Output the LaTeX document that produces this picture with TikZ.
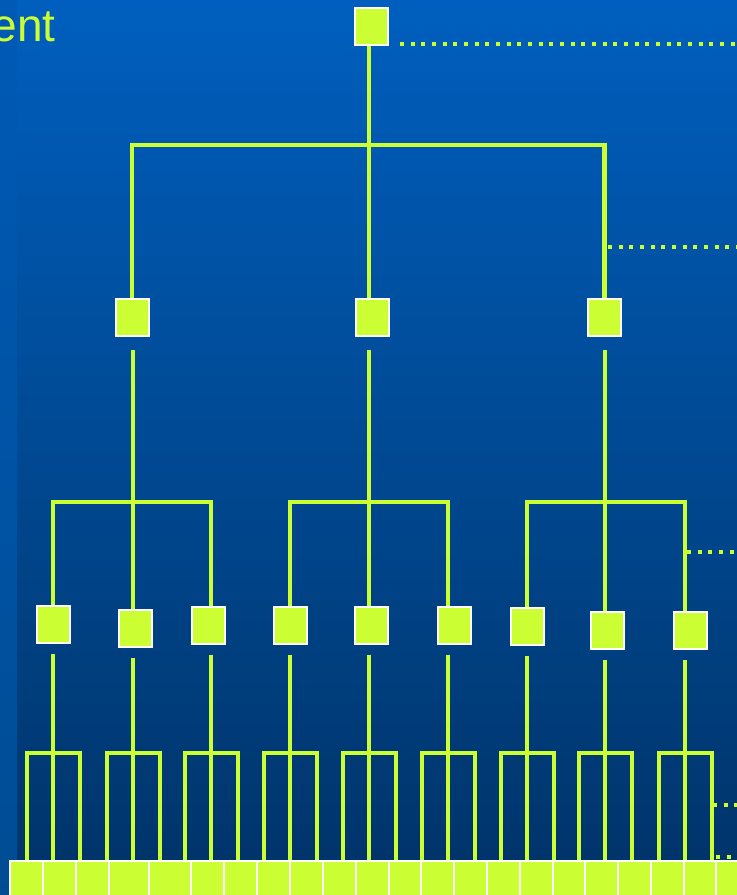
\documentclass[tikz,border=0pt]{standalone}
\usepackage{fontspec}
\setmainfont{Liberation Sans}
\usetikzlibrary{positioning,calc}
\definecolor{treegreen}{RGB}{204,255,51}
\definecolor{bgtop}{RGB}{0,95,190}
\definecolor{bgbottom}{RGB}{0,51,104}
\definecolor{striptop}{RGB}{0,90,182}
\definecolor{stripbottom}{RGB}{0,76,148}

\begin{document}
\begin{tikzpicture}[
    x=0.75pt, y=-0.75pt,
    box/.style={draw=white, line width=1.5pt, fill=treegreen, minimum width=24.75pt, minimum height=27.75pt, inner sep=0pt},
    cell/.style={draw=white, line width=1.5pt, fill=treegreen, minimum height=36pt, inner sep=0pt},
    link/.style={draw=treegreen, line width=3.7pt},
    level/.style={draw=treegreen, line width=3pt, dash pattern=on 3pt off 5pt}
  ]
    \useasboundingbox (0,0) rectangle (737,895);
    \clip (0,0) rectangle (737,895);
    % background
    \shade[top color=bgtop, bottom color=bgbottom] (0,0) rectangle (737,895);
    \shade[top color=striptop, bottom color=stripbottom] (0,0) rectangle (17,895);

    \node[anchor=base east, inner sep=0pt, text=treegreen, font=\fontsize{34.5pt}{40pt}\selectfont] (title) at (56,42) {ent};

    % tree nodes
    \node[box] (root) at (371.5,26.5) {};
    \node[box] (m1) at (132,317) {};
    \node[box] (m2) at (372,317) {};
    \node[box] (m3) at (604.5,317) {};
    \node[box] (t1) at (53,624) {};
    \node[box] (t2) at (135,628) {};
    \node[box] (t3) at (208,625) {};
    \node[box] (t4) at (290,625) {};
    \node[box] (t5) at (371.5,625) {};
    \node[box] (t6) at (454,625) {};
    \node[box] (t7) at (527,626) {};
    \node[box] (t8) at (607,630) {};
    \node[box] (t9) at (690,630.5) {};

    % bottom row
    \foreach \xa/\xb [count=\i] in {10/43, 43/76, 76/109, 109/149, 149/191, 191/224, 224/257, 257/290, 290/323, 323/356, 356/389, 389/421, 421/454, 454/487, 487/520, 520/553, 553/585, 585/618, 618/651, 651/684, 684/716, 716/750}
      \node[cell, minimum width={(\xb-\xa)*0.75pt}] (r\i) at ({(\xa+\xb)/2},885) {};

    % connectors
    \coordinate (hub) at (369,145);
    \draw[link] (hub |- root.south) -- (hub |- m2.north);
    \draw[link] (m1.north) |- (hub) -| (m3.north);

    \foreach \up/\lft/\cen/\rgt/\xl/\xm/\xr in {m1/t1/t2/t3/53/133/211, m2/t4/t5/t6/290/369/448, m3/t7/t8/t9/527/605/685} {
      \draw[link, shorten <=9.75pt] (\xm,0 |- \up.south) -- (\xm,0 |- \cen.north);
      \draw[link] (\xl,0 |- \lft.north) |- (\xr,502) -- (\xr,0 |- \rgt.north);
    }

    \foreach \t/\x in {t1/53, t2/133, t3/211, t4/290, t5/369, t6/448, t7/527, t8/605, t9/685} {
      \draw[link, shorten <=7.5pt] (\x,0 |- \t.south) -- (\x,0 |- r1.north);
      \draw[link] (\x-26,0 |- r1.north) |- (\x+27,753) -- (\x+27,0 |- r1.north);
    }

    % level markers
    \coordinate (d1) at (400,44);  \coordinate (e1) at (737,44);
    \coordinate (d2) at (608,247); \coordinate (e2) at (737,247);
    \coordinate (d3) at (687,552); \coordinate (e3) at (737,552);
    \coordinate (d4) at (713,805); \coordinate (e4) at (737,805);
    \coordinate (d5) at (716,857); \coordinate (e5) at (737,857);
    \foreach \i in {1,...,5}
      \draw[level] (d\i) -- (e\i);
\end{tikzpicture}
\end{document}
